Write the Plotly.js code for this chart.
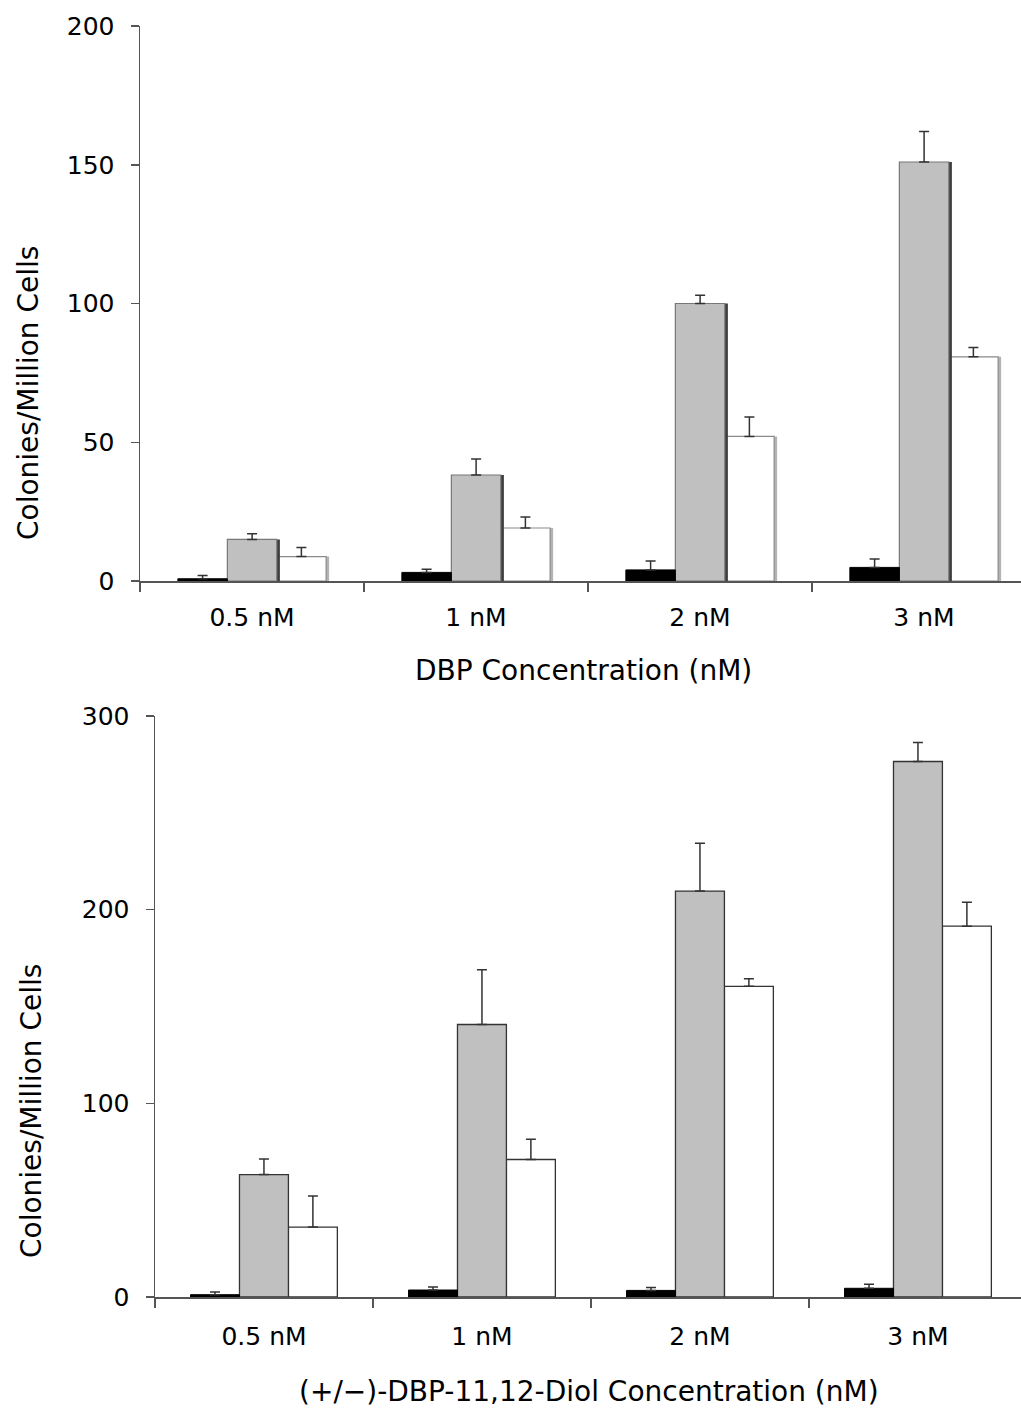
<!DOCTYPE html>
<html>
<head>
<meta charset="utf-8">
<script src="https://cdn.plot.ly/plotly-3.0.1.min.js"></script>
<style>
html,body{margin:0;padding:0;background:#fff;overflow:hidden;}
#chart{width:1021px;height:1408px;}
</style>
</head>
<body>
<div id="chart"></div>
<script>
// ---- data ----
var categories = ["0.5 nM", "1 nM", "2 nM", "3 nM"];

// Top panel: DBP
var dbpBlack = [0.8, 3.1, 4.0, 4.9];
var dbpBlackErr = [1.2, 1.1, 3.2, 3.0];
var dbpGray = [15, 38.2, 100, 151];
var dbpGrayErr = [2.0, 5.8, 3.0, 11.0];
var dbpWhite = [8.8, 19.1, 52.1, 80.8];
var dbpWhiteErr = [3.3, 4.0, 7.0, 3.3];

// Bottom panel: (+/-)-DBP-11,12-Diol
var diolBlack = [1.2, 3.6, 3.4, 4.5];
var diolBlackErr = [1.4, 1.6, 1.5, 2.1];
var diolGray = [63.2, 140.7, 209.6, 276.5];
var diolGrayErr = [8.1, 28.3, 24.7, 9.8];
var diolWhite = [36.1, 71.0, 160.4, 191.5];
var diolWhiteErr = [16.0, 10.4, 3.9, 12.3];

var xTitleTop = "DBP Concentration (nM)";
var xTitleBottom = "(+/\u2212)-DBP-11,12-Diol Concentration (nM)";
var yTitle = "Colonies/Million Cells";

// ---- styles ----
var FONT = "DejaVu Sans, Verdana, sans-serif";
var errStyle = {type: "data", symmetric: false, color: "#333", thickness: 1.5, width: 5};

function errUp(arr) {
  return Object.assign({}, errStyle, {array: arr, arrayminus: arr.map(function(){return 0;})});
}

function bar(y, err, fill, line, lw, xa, ya, w, off) {
  var t = {
    type: "bar", x: categories, y: y, xaxis: xa, yaxis: ya,
    width: w, offset: off, showlegend: false, hoverinfo: "skip",
    marker: {color: fill, line: {color: line, width: lw}}
  };
  if (err) t.error_y = errUp(err);
  return t;
}

// top: width ~49.5px of 224 px per category
var wT = 0.221, sh = 3 / 224;
// bottom: ~49px of 218 px per category
var wB = 0.2245;

var data = [
  // top panel (with drop shadows)
  bar(dbpWhite, null, "#b4b4b4", "#b4b4b4", 0, "x", "y", wT, 0.11 + sh),
  bar(dbpWhite, dbpWhiteErr, "#ffffff", "#8a8a8a", 1.2, "x", "y", wT, 0.11),
  bar(dbpGray, null, "#3a3a3a", "#3a3a3a", 0, "x", "y", wT, -0.11 + sh),
  bar(dbpGray, dbpGrayErr, "#c0c0c0", "#777777", 1.2, "x", "y", wT, -0.11),
  bar(dbpBlack, dbpBlackErr, "#000000", "#000000", 1, "x", "y", wT, -0.331),
  // bottom panel
  bar(diolWhite, diolWhiteErr, "#ffffff", "#333333", 1.3, "x2", "y2", wB, 0.112),
  bar(diolGray, diolGrayErr, "#c0c0c0", "#333333", 1.3, "x2", "y2", wB, -0.1125),
  bar(diolBlack, diolBlackErr, "#000000", "#000000", 1, "x2", "y2", wB, -0.337)
];

var H = 1408, W = 1021;
function py(p) { return 1 - p / H; }
function px(p) { return p / W; }

var tickFont = {family: FONT, size: 25, color: "#000"};
var titleFont = {family: FONT, size: 28, color: "#000"};

function xaxis(dom, rngMax, anchor, standoff) {
  return {
    domain: dom, anchor: anchor, type: "category",
    range: [-0.5, rngMax], fixedrange: true,
    showline: true, linecolor: "#555", linewidth: 1.5,
    ticks: "outside", tickson: "boundaries", ticklen: 9, tickcolor: "#555", tickwidth: 1.5,
    showgrid: false, zeroline: false, tickfont: tickFont, ticklabelstandoff: standoff
  };
}
function yaxis(dom, maxv, dt, anchor) {
  return {
    domain: dom, anchor: anchor, range: [0, maxv], dtick: dt, tick0: 0,
    showline: true, linecolor: "#555", linewidth: 1.5,
    ticks: "outside", ticklen: 8, tickcolor: "#555", tickwidth: 1.5,
    showgrid: false, zeroline: false, tickfont: tickFont, ticklabelstandoff: 11,
    fixedrange: true
  };
}

var layout = {
  width: W, height: H,
  margin: {l: 0, r: 0, t: 0, b: 0},
  paper_bgcolor: "#fff", plot_bgcolor: "rgba(0,0,0,0)",
  barmode: "overlay",
  showlegend: false,
  xaxis: xaxis([px(140), 1], (1021 - 140) / 224 - 0.5, "y", 13),
  yaxis: yaxis([py(581), py(26)], 200, 50, "x"),
  xaxis2: xaxis([px(155), 1], (1021 - 155) / 218 - 0.5, "y2", 16),
  yaxis2: yaxis([py(1297), py(716)], 300, 100, "x2"),
  annotations: [
    {text: xTitleTop, xref: "paper", yref: "paper", x: px(583), y: py(670), showarrow: false,
     xanchor: "center", yanchor: "middle", font: titleFont},
    {text: xTitleBottom, xref: "paper", yref: "paper", x: px(589), y: py(1391), showarrow: false,
     xanchor: "center", yanchor: "middle", font: titleFont},
    {text: yTitle, xref: "paper", yref: "paper", x: px(29), y: py(393), showarrow: false,
     textangle: -90, xanchor: "center", yanchor: "middle", font: titleFont},
    {text: yTitle, xref: "paper", yref: "paper", x: px(31), y: py(1111), showarrow: false,
     textangle: -90, xanchor: "center", yanchor: "middle", font: titleFont}
  ]
};

Plotly.newPlot("chart", data, layout, {displayModeBar: false, staticPlot: true});
</script>
</body>
</html>
